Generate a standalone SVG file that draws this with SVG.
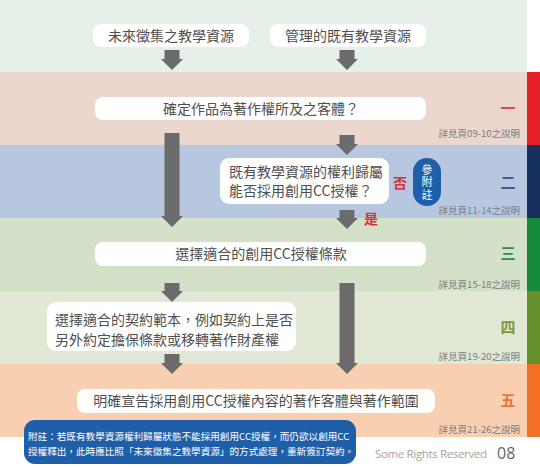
<svg xmlns="http://www.w3.org/2000/svg" width="540" height="468" viewBox="0 0 540 468">
<style>
.box{fill:#ffffff}
.t{font-family:"Noto Sans CJK TC","Noto Sans",sans-serif;font-size:14px;fill:#4f4f4f}
.c{text-anchor:middle}
.ref{font-family:"Noto Sans CJK TC","Noto Sans",sans-serif;font-size:9.5px;fill:#7d7d7d;text-anchor:end}
.num{font-family:"Noto Sans CJK TC","Noto Sans",sans-serif;font-size:15px;text-anchor:middle;font-weight:bold}
.yn{font-family:"Noto Sans CJK TC","Noto Sans",sans-serif;font-size:14px;fill:#d2323c;font-weight:bold;text-anchor:middle}
.arr{fill:#6b6b6b}
.note{font-family:"Noto Sans CJK TC","Noto Sans",sans-serif;font-size:9.6px;fill:#ffffff}
.pill{font-family:"Noto Sans CJK TC","Noto Sans",sans-serif;font-size:11px;fill:#ffffff;text-anchor:middle;writing-mode:vertical-rl;letter-spacing:1.5px}
</style>
<rect width="540" height="468" fill="#ffffff"/>
<!-- bands -->
<rect x="0" y="0" width="527" height="72" fill="#e4f0e8"/>
<rect x="0" y="72" width="527" height="73" fill="#ebd7ce"/>
<rect x="0" y="145" width="527" height="73" fill="#b8c7e0"/>
<rect x="0" y="218" width="527" height="73" fill="#d4e1c9"/>
<rect x="0" y="291" width="527" height="73" fill="#e2e8d6"/>
<rect x="0" y="364" width="527" height="73" fill="#f9cfb1"/>
<rect x="527" y="72" width="13" height="73" fill="#e61f27"/>
<rect x="527" y="145" width="13" height="73" fill="#15305f"/>
<rect x="527" y="218" width="13" height="73" fill="#16893b"/>
<rect x="527" y="291" width="13" height="73" fill="#66912a"/>
<rect x="527" y="364" width="13" height="73" fill="#f27024"/>

<!-- section labels -->
<text class="num" x="508" y="114" fill="#e0474c">一</text>
<text class="num" x="508" y="188" fill="#3d5f95">二</text>
<text class="num" x="508" y="259" fill="#2f8a4e">三</text>
<text class="num" x="508" y="333" fill="#7a9a38">四</text>
<text class="num" x="508" y="406" fill="#e8763a">五</text>
<text class="ref" x="520" y="137">詳見頁09-10之說明</text>
<text class="ref" x="520" y="214">詳見頁11-14之說明</text>
<text class="ref" x="520" y="287.5">詳見頁15-18之說明</text>
<text class="ref" x="520" y="360">詳見頁19-20之說明</text>
<text class="ref" x="520" y="432.5">詳見頁21-26之說明</text>

<!-- connectors -->
<g id="connectors" class="arr">
<path d="M164.5 50H179.5V59H183L172 70L161 59H164.5Z"/>
<path d="M339.5 50H354.5V59H358L347 70L336 59H339.5Z"/>
<path d="M164.5 133H179.5V216H183L172 227L161 216H164.5Z"/>
<path d="M339.5 135H354.5V144H358L347 155L336 144H339.5Z"/>
<path d="M339.5 210H354.5V218H358L347 229L336 218H339.5Z"/>
<path d="M164.5 283H179.5V291H183L172 302L161 291H164.5Z"/>
<path d="M339.5 283H354.5V363H358L347 374L336 363H339.5Z"/>
<path d="M164.5 354H179.5V363H183L172 374L161 363H164.5Z"/>
<text class="yn" x="400" y="188">否</text>
<text class="yn" x="371" y="224">是</text>
</g>

<g id="n1">
<rect class="box" x="93" y="24" width="156" height="23" rx="8"/>
<text class="t c" x="171" y="40.5">未來徵集之教學資源</text>
</g>
<g id="n2">
<rect class="box" x="270" y="24" width="156" height="23" rx="8"/>
<text class="t c" x="348" y="40.5">管理的既有教學資源</text>
</g>
<g id="n3">
<rect class="box" x="95" y="97" width="331" height="23" rx="8"/>
<text class="t c" x="261" y="113.5">確定作品為著作權所及之客體？</text>
</g>
<g id="n4">
<rect class="box" x="220" y="158" width="169" height="46" rx="9"/>
<text class="t" x="229" y="176.5">既有教學資源的權利歸屬</text>
<text class="t" x="229" y="196">能否採用創用CC授權？</text>
</g>
<g id="n5">
<rect x="413" y="158" width="28" height="48" rx="14" fill="#1f5fa9"/>
<text class="pill" x="427" y="183">參附註</text>
</g>
<g id="n6">
<rect class="box" x="95" y="242" width="331" height="24" rx="8"/>
<text class="t c" x="261" y="259">選擇適合的創用CC授權條款</text>
</g>
<g id="n7">
<rect class="box" x="47" y="302" width="249" height="49" rx="9"/>
<text class="t" x="55" y="325">選擇適合的契約範本，例如契約上是否</text>
<text class="t" x="55" y="345">另外約定擔保條款或移轉著作財產權</text>
</g>
<g id="n8">
<rect class="box" x="77" y="389" width="358" height="24" rx="8"/>
<text class="t c" x="256" y="406">明確宣告採用創用CC授權內容的著作客體與著作範圍</text>
</g>
<g id="note">
<rect x="24" y="420" width="332" height="44" rx="11" fill="#1f5fa9"/>
<text class="note" x="28" y="440">附註：若既有教學資源權利歸屬狀態不能採用創用CC授權，而仍欲以創用CC</text>
<text class="note" x="28" y="455">授權釋出，此時應比照「未來徵集之教學資源」的方式處理，重新簽訂契約。</text>
</g>
<text x="375" y="458" font-family="Open Sans,sans-serif" font-size="11.5" fill="#a3a3a3" textLength="112">Some Rights Reserved</text>
<text x="497" y="459" font-family="Open Sans,sans-serif" font-size="16" fill="#666666">08</text>
</svg>
